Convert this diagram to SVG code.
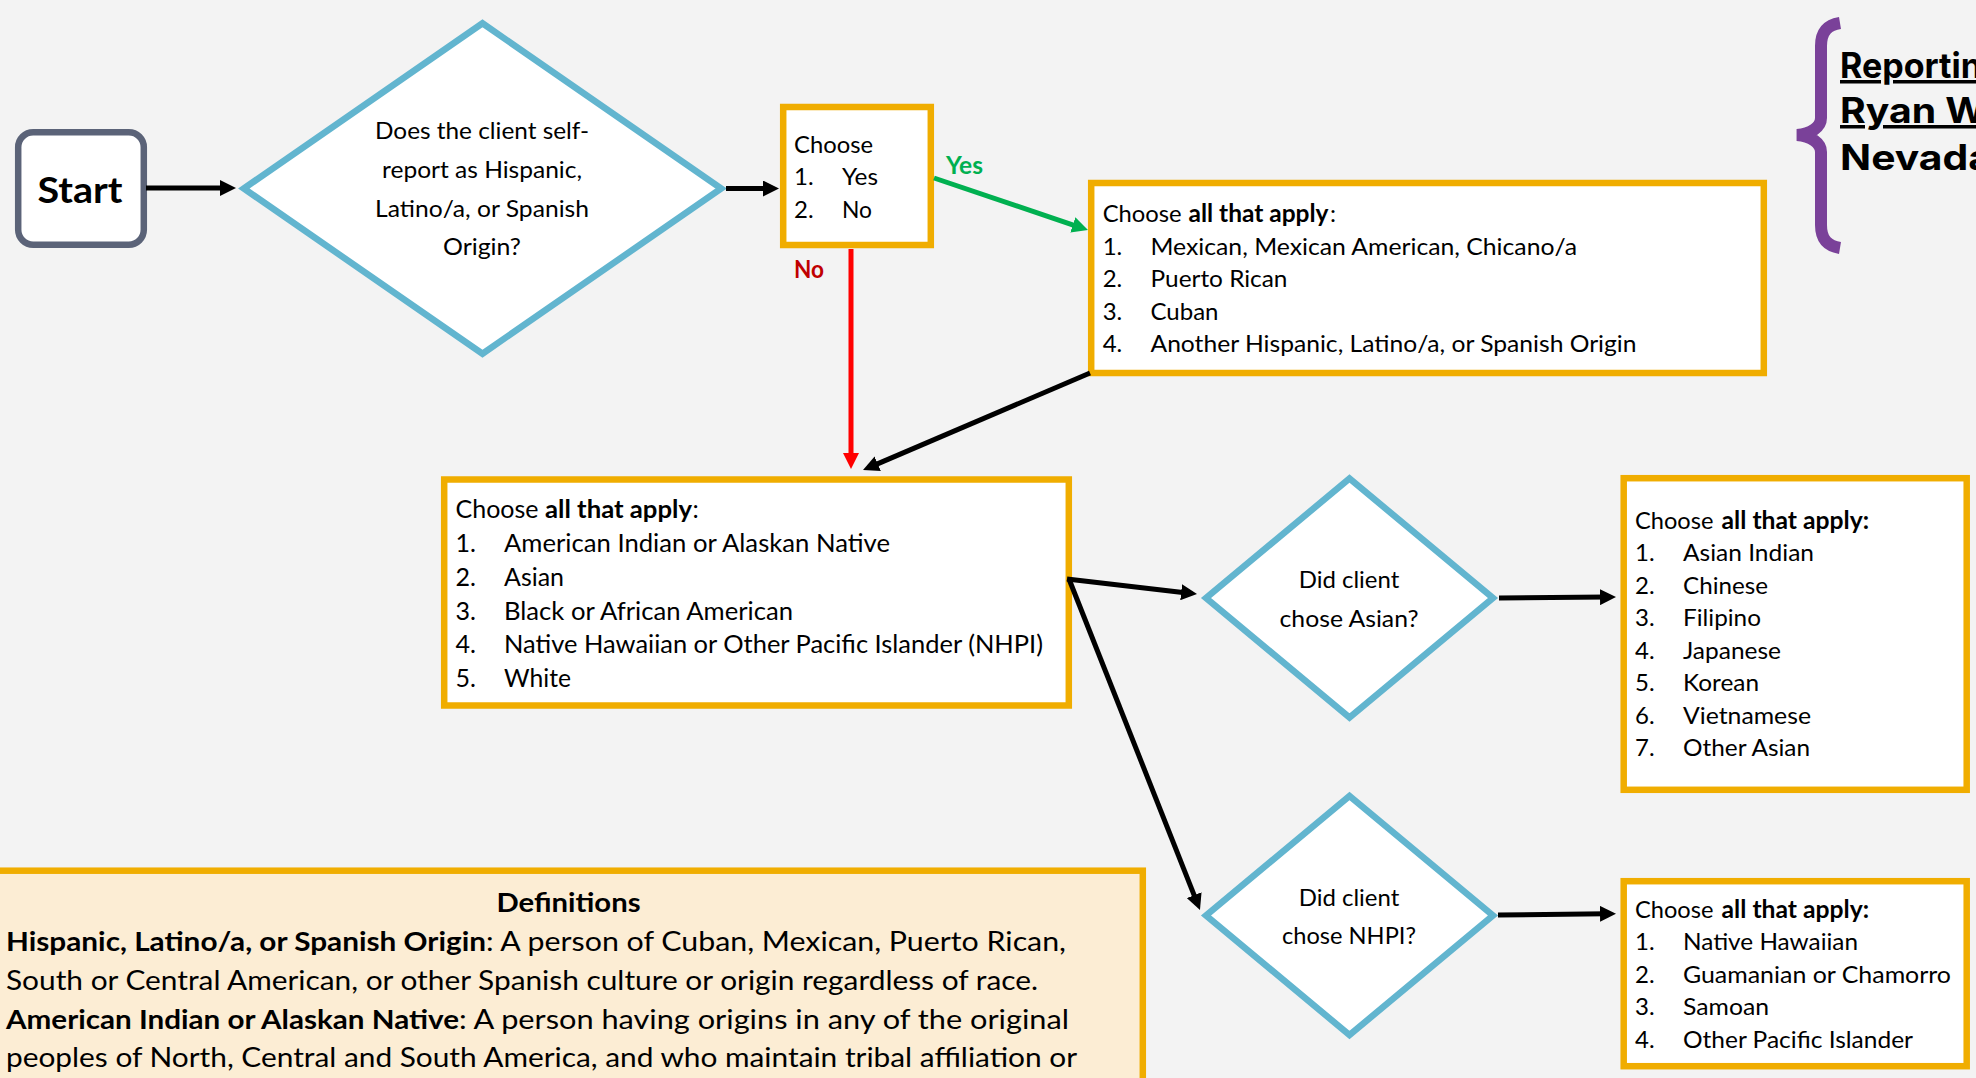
<svg xmlns="http://www.w3.org/2000/svg" width="1976" height="1078" viewBox="0 0 1976 1078">
<defs>
<style>
text{font-family:"Lato","Open Sans",sans-serif;font-size:24px;fill:#000}
.m{font-size:25px}
.d{font-size:26px}
.b{font-weight:700}
.c{text-anchor:middle}
.box{fill:#fff;stroke:#F0AD00;stroke-width:6.5}
.dia{fill:#fff;stroke:#62B5CF;stroke-width:6.5;stroke-miterlimit:10}
.con{fill:none;stroke:#000;stroke-width:5}
.head{font-family:"Inter","Open Sans",sans-serif;font-size:35px;font-weight:700;text-decoration:underline}
</style>
<marker id="ak" markerUnits="userSpaceOnUse" markerWidth="16" markerHeight="16" refX="6" refY="8" orient="auto"><path d="M0,0L16,8L0,16z" fill="#000"/></marker>
<marker id="ag" markerUnits="userSpaceOnUse" markerWidth="16" markerHeight="16" refX="6" refY="8" orient="auto"><path d="M0,0L16,8L0,16z" fill="#00B050"/></marker>
<marker id="ar" markerUnits="userSpaceOnUse" markerWidth="16" markerHeight="16" refX="6" refY="8" orient="auto"><path d="M0,0L16,8L0,16z" fill="#FF0000"/></marker>
</defs>
<rect width="1976" height="1078" fill="#F3F3F3"/>

<g id="start">
<rect x="18.2" y="132.2" width="125.6" height="112.6" rx="15" fill="#fff" stroke="#5B6378" stroke-width="6.5"/>
<text class="b c" x="80" y="203" style="font-size:36px" textLength="85" lengthAdjust="spacingAndGlyphs">Start</text>
</g>

<g id="q-hispanic">
<polygon class="dia" points="243.8,188.5 482.5,23.3 721.2,188.5 482.5,353.7"/>
<text class="c" x="482" y="139" textLength="214" lengthAdjust="spacingAndGlyphs">Does the client self-</text>
<text class="c" x="482" y="178" textLength="200" lengthAdjust="spacingAndGlyphs">report as Hispanic,</text>
<text class="c" x="482" y="217" textLength="214" lengthAdjust="spacingAndGlyphs">Latino/a, or Spanish</text>
<text class="c" x="482" y="255" textLength="78" lengthAdjust="spacingAndGlyphs">Origin?</text>
</g>

<g id="choose-yn">
<rect class="box" x="783.2" y="107" width="147.6" height="138"/>
<text x="794" y="153" textLength="79" lengthAdjust="spacingAndGlyphs">Choose</text>
<text x="794" y="185">1.</text><text x="842" y="185" textLength="36" lengthAdjust="spacingAndGlyphs">Yes</text>
<text x="794" y="217.5">2.</text><text x="842" y="217.5" textLength="30" lengthAdjust="spacingAndGlyphs">No</text>
</g>

<g id="label-yes"><text class="b" x="946" y="174" style="fill:#00B050" textLength="37" lengthAdjust="spacingAndGlyphs">Yes</text></g>
<g id="label-no"><text class="b" x="794" y="278" style="fill:#C00000" textLength="30" lengthAdjust="spacingAndGlyphs">No</text></g>

<g id="hispanic-list">
<rect class="box" x="1091.2" y="183" width="672.6" height="190"/>
<text x="1102.7" y="222" textLength="79" lengthAdjust="spacingAndGlyphs">Choose</text>
<text class="b" x="1188.5" y="222" textLength="140" lengthAdjust="spacingAndGlyphs">all that apply</text>
<text x="1330" y="222">:</text>
<text x="1102.7" y="254.5">1.</text><text x="1150.5" y="254.5" textLength="426.5" lengthAdjust="spacingAndGlyphs">Mexican, Mexican American, Chicano/a</text>
<text x="1102.7" y="286.5">2.</text><text x="1150.5" y="286.5" textLength="137" lengthAdjust="spacingAndGlyphs">Puerto Rican</text>
<text x="1102.7" y="319.5">3.</text><text x="1150.5" y="319.5" textLength="68" lengthAdjust="spacingAndGlyphs">Cuban</text>
<text x="1102.7" y="352">4.</text><text x="1150.5" y="352" textLength="486" lengthAdjust="spacingAndGlyphs">Another Hispanic, Latino/a, or Spanish Origin</text>
</g>

<g id="reporting-brace">
<path d="M1840,23C1828,25 1821,31 1821,46L1821,118C1821,127 1811,134 1797,135C1811,136 1821,143 1821,152L1821,225C1821,240 1828,246 1840,248" fill="none" stroke="#7A4199" stroke-width="12"/>
<text class="head" x="1840" y="78" textLength="142" lengthAdjust="spacingAndGlyphs">Reportin</text>
<text class="head" x="1840" y="123" textLength="146" lengthAdjust="spacingAndGlyphs">Ryan W</text>
<text class="head" x="1840" y="170" style="text-decoration:none" textLength="152" lengthAdjust="spacingAndGlyphs">Nevada</text>
</g>

<g id="race-list">
<rect class="box" x="444.2" y="479.5" width="624.6" height="226"/>
<text class="m" x="455.5" y="518" textLength="83" lengthAdjust="spacingAndGlyphs">Choose</text>
<text class="m b" x="545" y="518" textLength="147" lengthAdjust="spacingAndGlyphs">all that apply</text>
<text class="m" x="692.5" y="518">:</text>
<text class="m" x="455.5" y="551.5">1.</text><text class="m" x="504" y="551.5" textLength="386" lengthAdjust="spacingAndGlyphs">American Indian or Alaskan Native</text>
<text class="m" x="455.5" y="586">2.</text><text class="m" x="504" y="586" textLength="60" lengthAdjust="spacingAndGlyphs">Asian</text>
<text class="m" x="455.5" y="620">3.</text><text class="m" x="504" y="620" textLength="289" lengthAdjust="spacingAndGlyphs">Black or African American</text>
<text class="m" x="455.5" y="653">4.</text><text class="m" x="504" y="653" textLength="539" lengthAdjust="spacingAndGlyphs">Native Hawaiian or Other Pacific Islander (NHPI)</text>
<text class="m" x="455.5" y="687">5.</text><text class="m" x="504" y="687" textLength="67" lengthAdjust="spacingAndGlyphs">White</text>
</g>

<g id="q-asian">
<polygon class="dia" points="1206,598 1349.5,478.5 1493,598 1349.5,717.5"/>
<text class="c" x="1349" y="587.5" textLength="100.6" lengthAdjust="spacingAndGlyphs">Did client</text>
<text class="c" x="1349" y="626.5" textLength="139" lengthAdjust="spacingAndGlyphs">chose Asian?</text>
</g>

<g id="q-nhpi">
<polygon class="dia" points="1206,915.5 1349.5,796 1493,915.5 1349.5,1035"/>
<text class="c" x="1349" y="905.5" textLength="100.6" lengthAdjust="spacingAndGlyphs">Did client</text>
<text class="c" x="1349" y="944" textLength="134" lengthAdjust="spacingAndGlyphs">chose NHPI?</text>
</g>

<g id="asian-list">
<rect class="box" x="1623.7" y="478.2" width="343" height="311.6"/>
<text x="1635" y="528.5" textLength="78.5" lengthAdjust="spacingAndGlyphs">Choose</text>
<text class="b" x="1721.6" y="528.5" textLength="147.5" lengthAdjust="spacingAndGlyphs">all that apply:</text>
<text x="1635" y="561">1.</text><text x="1683" y="561" textLength="131" lengthAdjust="spacingAndGlyphs">Asian Indian</text>
<text x="1635" y="594">2.</text><text x="1683" y="594" textLength="85" lengthAdjust="spacingAndGlyphs">Chinese</text>
<text x="1635" y="626">3.</text><text x="1683" y="626" textLength="78" lengthAdjust="spacingAndGlyphs">Filipino</text>
<text x="1635" y="659">4.</text><text x="1683" y="659" textLength="98" lengthAdjust="spacingAndGlyphs">Japanese</text>
<text x="1635" y="691">5.</text><text x="1683" y="691" textLength="76" lengthAdjust="spacingAndGlyphs">Korean</text>
<text x="1635" y="724">6.</text><text x="1683" y="724" textLength="128" lengthAdjust="spacingAndGlyphs">Vietnamese</text>
<text x="1635" y="756">7.</text><text x="1683" y="756" textLength="127" lengthAdjust="spacingAndGlyphs">Other Asian</text>
</g>

<g id="nhpi-list">
<rect class="box" x="1623.7" y="881.2" width="343" height="185"/>
<text x="1635" y="917.5" textLength="78.5" lengthAdjust="spacingAndGlyphs">Choose</text>
<text class="b" x="1721.6" y="917.5" textLength="147.5" lengthAdjust="spacingAndGlyphs">all that apply:</text>
<text x="1635" y="950">1.</text><text x="1683" y="950" textLength="175" lengthAdjust="spacingAndGlyphs">Native Hawaiian</text>
<text x="1635" y="982.5">2.</text><text x="1683" y="982.5" textLength="268" lengthAdjust="spacingAndGlyphs">Guamanian or Chamorro</text>
<text x="1635" y="1015">3.</text><text x="1683" y="1015" textLength="86" lengthAdjust="spacingAndGlyphs">Samoan</text>
<text x="1635" y="1047.5">4.</text><text x="1683" y="1047.5" textLength="230" lengthAdjust="spacingAndGlyphs">Other Pacific Islander</text>
</g>

<g id="definitions">
<rect x="-10" y="870.7" width="1152.8" height="230" fill="#FCEDD4" stroke="#F0AD00" stroke-width="6.5"/>
<text class="d b c" x="568.5" y="912" textLength="144" lengthAdjust="spacingAndGlyphs">Definitions</text>
<text class="d b" x="6" y="951" textLength="480" lengthAdjust="spacingAndGlyphs">Hispanic, Latino/a, or Spanish Origin</text>
<text class="d" x="486" y="951" textLength="580" lengthAdjust="spacingAndGlyphs">: A person of Cuban, Mexican, Puerto Rican,</text>
<text class="d" x="6" y="990" textLength="1032" lengthAdjust="spacingAndGlyphs">South or Central American, or other Spanish culture or origin regardless of race.</text>
<text class="d b" x="6" y="1029" textLength="453" lengthAdjust="spacingAndGlyphs">American Indian or Alaskan Native</text>
<text class="d" x="459" y="1029" textLength="610" lengthAdjust="spacingAndGlyphs">: A person having origins in any of the original</text>
<text class="d" x="6" y="1067" textLength="1071" lengthAdjust="spacingAndGlyphs">peoples of North, Central and South America, and who maintain tribal affiliation or</text>
</g>

<g id="connectors">
<line class="con" x1="146" y1="188" x2="226" y2="188" marker-end="url(#ak)"/>
<line class="con" x1="726" y1="188.5" x2="769" y2="188.5" marker-end="url(#ak)"/>
<line class="con" x1="934" y1="178" x2="1078.5" y2="226.8" style="stroke:#00B050" marker-end="url(#ag)"/>
<line class="con" x1="851" y1="249" x2="851" y2="459" style="stroke:#FF0000" marker-end="url(#ar)"/>
<line class="con" x1="1090" y1="373" x2="872.2" y2="466.1" marker-end="url(#ak)"/>
<line class="con" x1="1067" y1="579" x2="1187.1" y2="592.9" marker-end="url(#ak)"/>
<line class="con" x1="1069" y1="579" x2="1196.3" y2="900.7" marker-end="url(#ak)"/>
<line class="con" x1="1499" y1="598" x2="1606" y2="597.1" marker-end="url(#ak)"/>
<line class="con" x1="1498" y1="915" x2="1606" y2="913.8" marker-end="url(#ak)"/>
</g>
</svg>
